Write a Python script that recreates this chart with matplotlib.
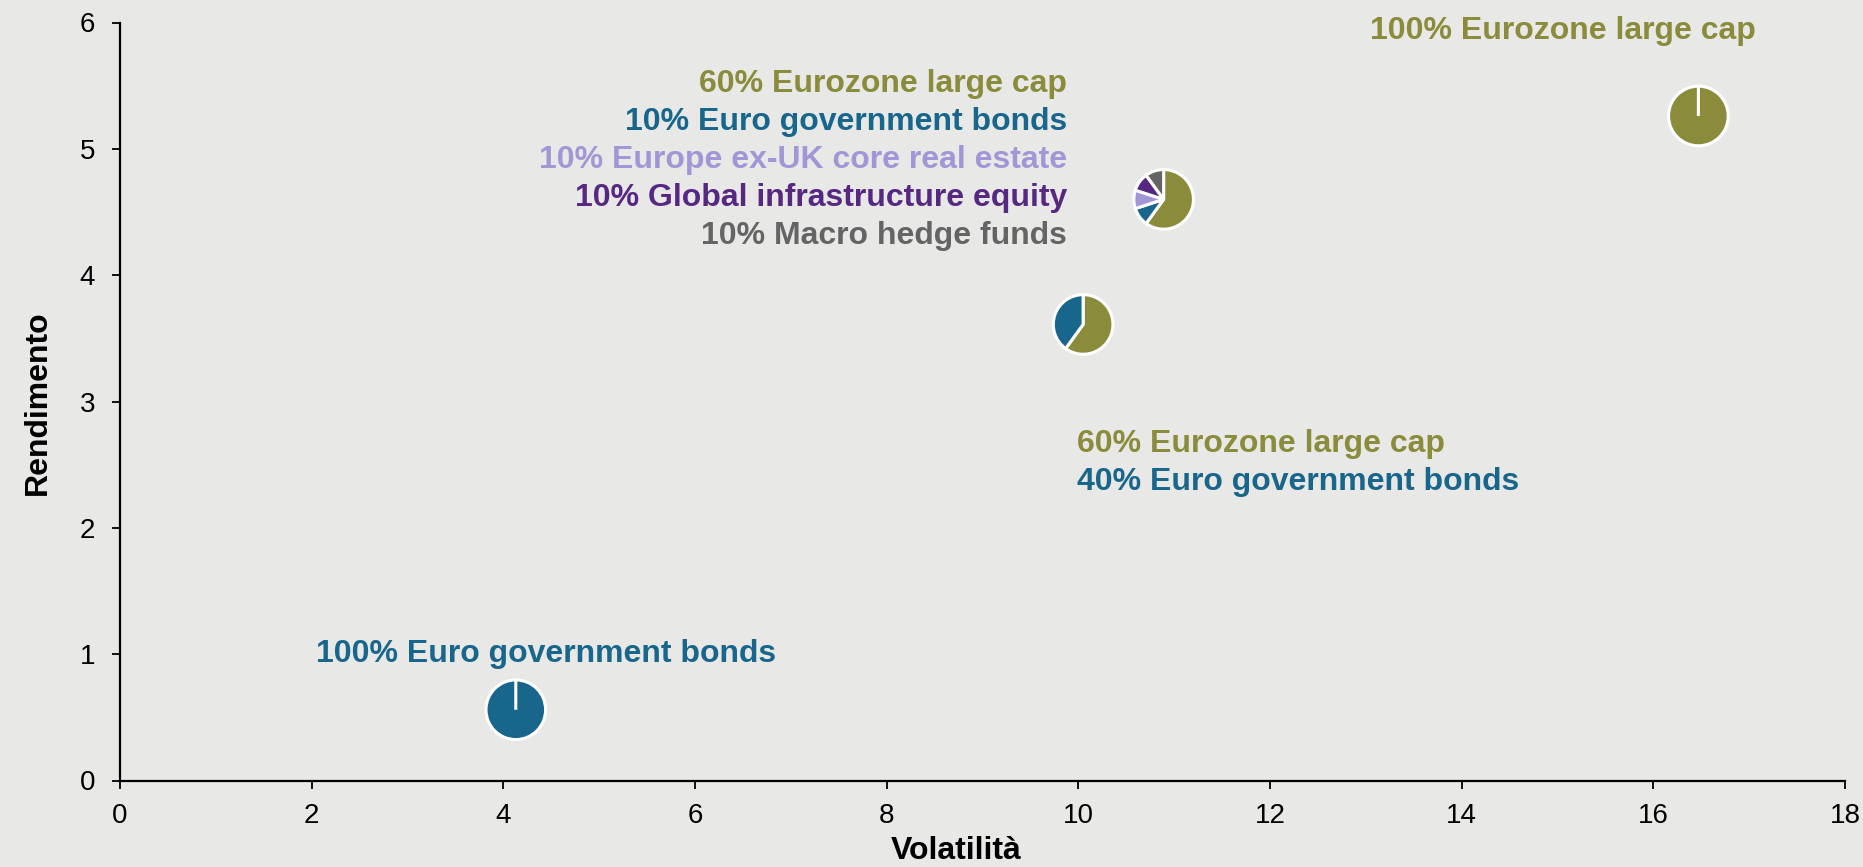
import matplotlib
matplotlib.use("Agg")
import matplotlib.pyplot as plt

plt.rcParams["font.family"] = ["Liberation Sans", "DejaVu Sans"]

# Asset colours
OLIVE = "#8A8B3B"
BLUE = "#18668C"
LAVENDER = "#A396D6"
PURPLE = "#572882"
GREY = "#646464"
BG = "#E8E8E6"

# Portfolio risk / return points
volatility = [4.13, 10.05, 10.89, 16.47]
returns = [0.56, 3.61, 4.60, 5.26]

# Allocation weights (%) per portfolio (zero slot keeps the white start seam)
alloc_bonds = [100, 0]
alloc_6040 = [60, 40]
alloc_diversified = [60, 10, 10, 10, 10]
alloc_equity = [100, 0]

colors_bonds = [BLUE, GREY]
colors_6040 = [OLIVE, BLUE]
colors_diversified = [OLIVE, BLUE, LAVENDER, PURPLE, GREY]
colors_equity = [OLIVE, BLUE]

allocations = [alloc_bonds, alloc_6040, alloc_diversified, alloc_equity]
pie_colors = [colors_bonds, colors_6040, colors_diversified, colors_equity]

# Label lines per portfolio
labels_bonds = ["100% Euro government bonds"]
labels_6040 = ["60% Eurozone large cap", "40% Euro government bonds"]
labels_diversified = [
    "60% Eurozone large cap",
    "10% Euro government bonds",
    "10% Europe ex-UK core real estate",
    "10% Global infrastructure equity",
    "10% Macro hedge funds",
]
labels_equity = ["100% Eurozone large cap"]

x_ticks = [0, 2, 4, 6, 8, 10, 12, 14, 16, 18]
y_ticks = [0, 1, 2, 3, 4, 5, 6]

W, H, DPI = 1863, 867, 100
fig = plt.figure(figsize=(W / DPI, H / DPI), dpi=DPI, facecolor=BG)
ax = fig.add_axes([120 / W, 1 - 780.5 / H, (1845 - 120) / W, (780.5 - 22.5) / H])
ax.set_facecolor(BG)
ax.set_xlim(0, 18)
ax.set_ylim(0, 6)
ax.set_xticks(x_ticks)
ax.set_yticks(y_ticks)
for s in ["top", "right"]:
    ax.spines[s].set_visible(False)
for s in ["left", "bottom"]:
    ax.spines[s].set_linewidth(1.6)
    ax.spines[s].set_color("black")
ax.tick_params(axis="both", labelsize=20, length=6, width=1.3, colors="black")
ax.tick_params(axis="x", pad=10)
ax.tick_params(axis="y", pad=12)
ax.set_xlabel("Volatilità", fontsize=23, fontweight="bold")
ax.set_ylabel("Rendimento", fontsize=23, fontweight="bold")
ax.xaxis.set_label_coords(0.485, -0.073)
ax.yaxis.set_label_coords(-0.039, 0.499)

# Small pie charts placed at each portfolio's risk/return point
pie_px = 62
fig.canvas.draw()
px_x = ax.transData.transform((1, 0))[0] - ax.transData.transform((0, 0))[0]
px_y = ax.transData.transform((0, 1))[1] - ax.transData.transform((0, 0))[1]
w_data = pie_px / px_x
h_data = pie_px / px_y
for vx, ry, sizes, cols in zip(volatility, returns, allocations, pie_colors):
    pax = ax.inset_axes([vx - w_data / 2, ry - h_data / 2, w_data, h_data],
                        transform=ax.transData)
    pax.pie(sizes, colors=cols, startangle=90, counterclock=False,
            wedgeprops=dict(edgecolor="white", linewidth=2.2))
    pax.set_xlim(-1.04, 1.04)
    pax.set_ylim(-1.04, 1.04)
    pax.set_aspect("equal")
    pax.axis("off")

# Portfolio annotations
line_gap = 0.30
fs = 23

for i, (t, c) in enumerate(zip(labels_diversified, colors_diversified)):
    ax.text(9.88, 5.51 - i * line_gap, t, color=c, fontsize=fs, fontweight="bold",
            ha="right", va="center")

for i, (t, c) in enumerate(zip(labels_6040, colors_6040)):
    ax.text(9.99, 2.66 - i * line_gap, t, color=c, fontsize=fs, fontweight="bold",
            ha="left", va="center")

ax.text(17.07, 5.93, labels_equity[0], color=OLIVE, fontsize=fs, fontweight="bold",
        ha="right", va="center")

ax.text(4.45, 1.0, labels_bonds[0], color=BLUE, fontsize=fs, fontweight="bold",
        ha="center", va="center")

fig.savefig("out.png", dpi=DPI, facecolor=BG)
